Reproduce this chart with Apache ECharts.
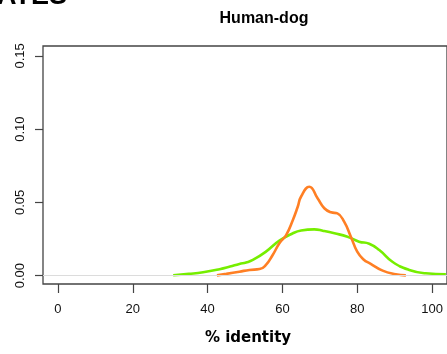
<!DOCTYPE html>
<html>
<head>
<meta charset="utf-8">
<script src="https://cdn.jsdelivr.net/npm/echarts@6/dist/echarts.min.js"></script>
<style>html,body{margin:0;padding:0;background:#fff;}#c{width:447px;height:354px;}</style>
</head>
<body>
<div id="c"></div>
<script>
var chartTitle = 'Human-dog';
var xAxisName = '% identity';
var xTicks = [0, 20, 40, 60, 80, 100];
var yTicks = [0, 0.05, 0.10, 0.15];
var orangeX = [42.5, 45, 48.5, 51.2, 53.9, 55.6, 57.4, 59.2, 61, 62.8, 64.1, 65, 67.2, 69.4, 71.2, 73, 74.7, 76.5, 78.3, 80, 81.7, 83.5, 86.8, 90.3, 93];
var orangeY = [0.0002, 0.0012, 0.0027, 0.0039, 0.0045, 0.0073, 0.0141, 0.0221, 0.0277, 0.038, 0.047, 0.054, 0.0607, 0.0528, 0.046, 0.0432, 0.0425, 0.0368, 0.0266, 0.0164, 0.011, 0.0082, 0.0034, 0.001, 0.0002];
var greenX = [30.8, 35, 38.8, 43.2, 46, 48.5, 50.3, 52.1, 55.6, 59.2, 62.8, 65, 68.5, 71, 73.9, 77.4, 80.5, 83.2, 85.9, 89.4, 93.9, 98.3, 103.7];
var greenY = [0.0003, 0.0012, 0.0023, 0.0044, 0.0062, 0.0080, 0.0090, 0.0107, 0.0164, 0.0239, 0.0289, 0.0308, 0.0316, 0.0305, 0.0289, 0.0266, 0.0232, 0.0218, 0.0175, 0.0095, 0.0039, 0.0016, 0.001];

function pairs(xs, ys) { return xs.map(function (x, i) { return [x, ys[i]]; }); }

var chart = echarts.init(document.getElementById('c'), null, {renderer: 'canvas'});
var axisColor = '#444';
chart.setOption({
  animation: false,
  grid: {left: 43, top: 46, right: -1, bottom: 70, show: true, borderColor: axisColor, borderWidth: 1.3, backgroundColor: 'transparent'},
  xAxis: {
    type: 'value', min: -4, max: 104,
    axisLine: {show: false, onZero: false},
    splitLine: {show: false},
    axisTick: {show: true, inside: false, length: 9, customValues: xTicks, lineStyle: {color: axisColor, width: 1.2}},
    axisLabel: {customValues: xTicks, margin: 19, color: '#111', fontSize: 13, fontFamily: 'Liberation Sans'}
  },
  yAxis: {
    type: 'value', min: -0.0057, max: 0.1567,
    axisLine: {show: false, onZero: false},
    splitLine: {show: false},
    axisTick: {show: true, inside: false, length: 8, customValues: yTicks, lineStyle: {color: axisColor, width: 1.2}},
    axisLabel: {customValues: yTicks, rotate: 90, margin: 16, color: '#111', fontSize: 13, fontFamily: 'Liberation Sans',
      formatter: function (v) { return v.toFixed(2); }}
  },
  series: [
    {type: 'line', data: [], silent: true,
      markLine: {silent: true, symbol: ['none', 'none'], label: {show: false},
        lineStyle: {color: '#dcdcdc', type: 'solid', width: 1}, data: [{yAxis: 0}]}},
    {type: 'line', data: pairs(greenX, greenY), smooth: 0.5, showSymbol: false, clip: false,
      lineStyle: {color: '#76EE00', width: 2.6}},
    {type: 'line', data: pairs(orangeX, orangeY), smooth: 0.5, showSymbol: false, clip: false,
      lineStyle: {color: '#FF7F24', width: 2.6}}
  ],
  graphic: [
    {type: 'text', left: -3, top: -17, style: {text: 'ATES', font: 'bold 27px "Liberation Sans"', fill: '#000'}},
    {type: 'text', x: 264, y: 19, style: {text: chartTitle, font: 'bold 16px "Liberation Sans"', fill: '#000', align: 'center', verticalAlign: 'middle'}},
    {type: 'text', x: 248, y: 338, style: {text: xAxisName, font: 'bold 15px "DejaVu Sans"', fill: '#000', align: 'center', verticalAlign: 'middle'}}
  ]
});
</script>
</body>
</html>
